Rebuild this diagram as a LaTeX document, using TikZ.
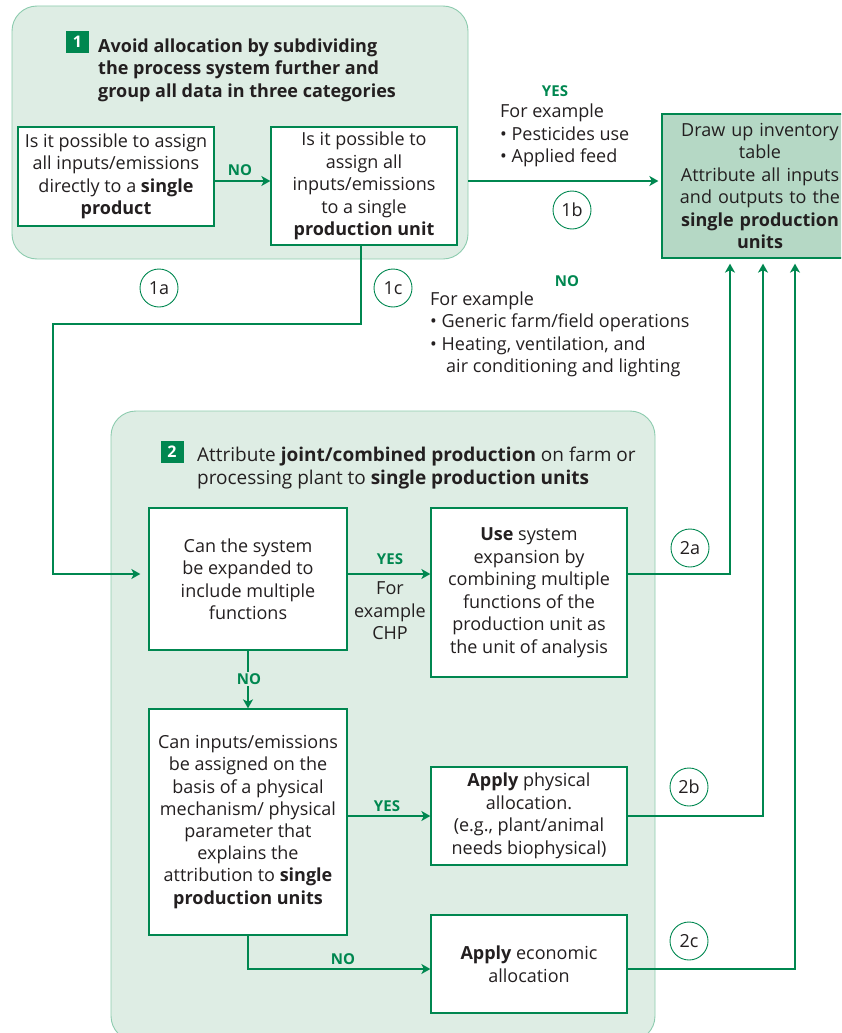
\documentclass[tikz,border=0pt]{standalone}
\usepackage{fontspec}
\setmainfont{Open Sans}
\usetikzlibrary{arrows.meta}
\definecolor{fgreen}{RGB}{0,135,80}
\definecolor{panelfill}{RGB}{222,237,228}
\definecolor{panelline}{RGB}{140,203,174}
\definecolor{invfill}{RGB}{181,216,197}
\definecolor{ink}{RGB}{35,31,32}
\newcommand{\bodyfont}{\fontsize{18}{22.5}\selectfont}
\begin{document}
\begin{tikzpicture}[x=1pt,y=-1pt,
  every node/.style={text=ink, font=\bodyfont},
  panel/.style={draw=panelline, fill=panelfill, rounded corners=25pt, line width=0.9pt, inner sep=0pt},
  box/.style={draw=fgreen, fill=white, line width=1.3pt, align=center, inner sep=2pt},
  invbox/.style={box, fill=invfill},
  flow/.style={draw=fgreen, line width=1.8pt, -{Stealth[length=9pt,width=10pt,inset=2.5pt]}},
  yn/.style={text=fgreen, font=\bfseries\fontsize{15}{17}\selectfont, inner sep=1pt},
  tag/.style={circle, draw=fgreen, line width=0.9pt, minimum size=38pt, inner sep=0pt},
  numsq/.style={fill=fgreen, text=white, font=\bfseries\fontsize{16}{18}\selectfont, minimum width=23pt, minimum height=22pt, inner sep=0pt},
  note/.style={align=left, anchor=west, inner sep=0pt},
  head/.style={align=left, anchor=west, inner sep=0pt, font=\fontsize{18}{22.5}\selectfont}
]
\useasboundingbox (0,0) rectangle (841,1033);
\clip (0,0) rectangle (841,1033);

% ---- panels ----
\node[panel, minimum width=456pt, minimum height=253pt] (p1) at (240,132.5) {};
\node[panel, minimum width=544pt, minimum height=630pt] (p2) at (383,726) {};

% ---- panel headings ----
\node[numsq] (n1) at (77.5,42) {1};
\node[head] (h1) at (98,70) {\bfseries Avoid allocation by subdividing\\\bfseries the process system further and\\\bfseries group all data in three categories};
\node[numsq] (n2) at (172,452) {2};
\node[head, font=\fontsize{19}{23}\selectfont] (h2) at (197,468.5) {Attribute \textbf{joint/combined production} on farm or\\processing plant to \textbf{single production units}};

% ---- boxes ----
\node[box, minimum width=196pt, minimum height=99pt] (a) at (116,176.5)
  {Is it possible to assign\\all inputs/emissions\\directly to a \textbf{single}\\\textbf{product}};
\node[box, minimum width=186pt, minimum height=118pt] (b) at (364,186)
  {Is it possible to\\assign all\\inputs/emissions\\to a single\\\textbf{production unit}};
\node[invbox, minimum width=196pt, minimum height=144pt, text width=180pt] (inv) at (760,186)
  {Draw up inventory\\table\\Attribute all inputs\\and outputs to the\\\textbf{single production}\\\textbf{units}};
\node[box, minimum width=198pt, minimum height=142pt] (c) at (248,579)
  {Can the system\\be expanded to\\include multiple\\functions};
\node[box, minimum width=196pt, minimum height=169pt] (d) at (529,592.5)
  {\textbf{Use} system\\expansion by\\combining multiple\\functions of the\\production unit as\\the unit of analysis};
\node[box, minimum width=198pt, minimum height=226pt, font=\fontsize{18}{22.2}\selectfont] (e) at (248,822)
  {Can inputs/emissions\\be assigned on the\\basis of a physical\\mechanism/ physical\\parameter that\\explains the\\attribution to \textbf{single}\\\textbf{production units}};
\node[box, minimum width=196pt, minimum height=98pt] (f) at (529,816)
  {\textbf{Apply} physical\\allocation.\\(e.g., plant/animal\\needs biophysical)};
\node[box, minimum width=196pt, minimum height=98pt] (g) at (529,964)
  {\textbf{Apply} economic\\allocation};

% ---- route levels ----
\coordinate (ya) at (0,181);
\coordinate (yc) at (0,574);
\coordinate (ye) at (0,816);
\coordinate (yg) at (0,969);
\coordinate (x1a) at (53,0);
\coordinate (x1c) at (361,0);
\coordinate (yturn) at (0,324);
\coordinate (xin1) at (730,0);
\coordinate (xin2) at (763,0);
\coordinate (xin3) at (795,0);

% ---- stage 1 connectors ----
\draw[flow] (a.east |- ya) -- (b.west |- ya);
\node[yn] at (240,170) {NO};
\draw[flow, shorten >=3pt] (p1.east |- ya) -- (inv.west |- ya);
\node[yn] at (555,91) {YES};
\node[note] at (500,135.5) {For example\\• Pesticides use\\• Applied feed};
\node[tag] (t1b) at (572,210) {1b};

\draw[flow, shorten >=8pt] (b.south -| x1c) -- (x1c |- yturn) -- (x1a |- yturn) -- (x1a |- yc) -- (c.west |- yc);
\node[tag] (t1a) at (159,288) {1a};
\node[tag] (t1c) at (393,288) {1c};
\node[yn] at (567,281) {NO};
\node[note] at (430,334.5) {For example\\• Generic farm/field operations\\• Heating, ventilation, and\\\hspace*{16pt}air conditioning and lighting};

% ---- stage 2 connectors ----
\draw[flow] (c.east |- yc) -- (d.west |- yc);
\node[yn] at (390,559) {YES};
\node[align=center, inner sep=0pt] at (390,611) {For\\example\\CHP};

\draw[flow] (c.south) -- (e.north);
\node[yn, fill=panelfill] at (249,679) {NO};

\draw[flow] (e.east |- ye) -- (f.west |- ye);
\node[yn] at (387,806) {YES};

\draw[flow] (e.south) -- (e.south |- yg) -- (g.west |- yg);
\node[yn] at (343,959) {NO};

% ---- return lines to the inventory table ----
\draw[flow, shorten >=5pt] (d.east |- yc) -- (xin1 |- yc) -- (xin1 |- inv.south);
\draw[flow, shorten >=5pt] (f.east |- ye) -- (xin2 |- ye) -- (xin2 |- inv.south);
\draw[flow, shorten >=5pt] (g.east |- yg) -- (xin3 |- yg) -- (xin3 |- inv.south);
\node[tag] (t2a) at (690,548) {2a};
\node[tag] (t2b) at (689,787) {2b};
\node[tag] (t2c) at (689,941) {2c};
\end{tikzpicture}
\end{document}
